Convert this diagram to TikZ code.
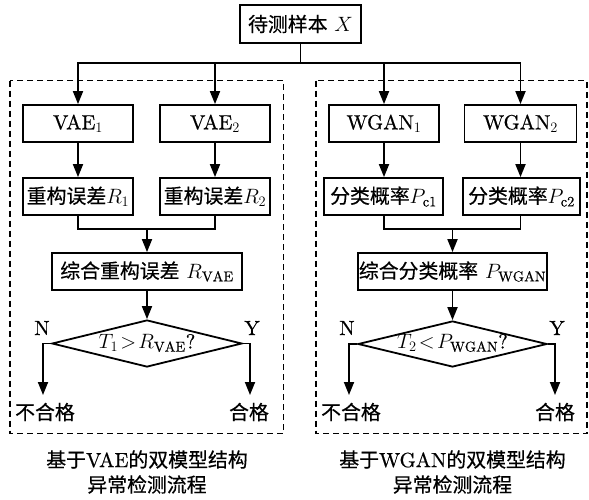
\documentclass[tikz,border=0pt]{standalone}
\usepackage{fontspec}
\setmainfont{lmroman10-regular.otf}[FakeBold=0.5]
\usetikzlibrary{arrows.meta,shapes.geometric}
\newfontfamily\cjk[Scale=0.97,FakeBold=0.5]{Noto Sans CJK SC}
\newcommand\mysize{\fontsize{20.5}{24}\selectfont}
\begin{document}
\begin{tikzpicture}[x=1pt,y=-1pt,
  box/.style={draw,line width=1.8pt,minimum height=37pt,inner sep=0pt,font=\mysize},
  dia/.style={draw,diamond,line width=1.8pt,inner sep=0pt},
  txt/.style={inner sep=0pt,font=\mysize},
  arr/.style={line width=1.8pt,-{Triangle[length=13pt,width=10pt]}},
  ln/.style={line width=1.8pt},
  dbox/.style={draw,line width=1.5pt,dash pattern=on 6pt off 4pt}]
\useasboundingbox (0,0) rectangle (589,499);
% dashed frames
\draw[dbox] (10,80.5) rectangle (283.5,433.5);
\draw[dbox] (316,80.5) rectangle (587,433.5);
% top
\node[box,minimum width=121pt,minimum height=38pt] (top) at (300.5,24) {{\cjk 待测样本} $X$};
\coordinate (split) at (300.5,63);
% left column
\node[box,minimum width=110pt] (v1) at (78,123.5) {VAE$_1$};
\node[box,minimum width=110pt] (v2) at (215,123.5) {VAE$_2$};
\node[box,minimum width=110pt] (r1) at (78,196.5) {{\cjk 重构误差}$R_1$};
\node[box,minimum width=110pt] (r2) at (215,196.5) {{\cjk 重构误差}$R_2$};
\coordinate (j1) at (147,229);
\node[box,minimum width=190pt] (cv) at (147,271.5) {{\cjk 综合重构误差} $R_{\mathrm{VAE}}$};
\node[dia,minimum width=190pt,minimum height=47pt] (dv) at (147,343.5) {};
\node[txt] (dvt) at (147,343) {$T_1\!>\!R_{\mathrm{VAE}}$?};
\coordinate (nL) at (43,395);
\coordinate (yL) at (250,395);
\node[txt] (nl) at (42,328) {N};
\node[txt] (yl) at (252,328) {Y};
\node[txt] (bhg1) at (45,412) {\cjk 不合格};
\node[txt] (hg1) at (249,412) {\cjk 合格};
% right column
\node[box,minimum width=110pt] (w1) at (384,123.5) {WGAN$_1$};
\node[box,minimum width=112pt] (w2) at (520.5,123.5) {WGAN$_2$};
\node[box,minimum width=119pt] (p1) at (383.5,196.5) {{\cjk 分类概率}$P_{\mathrm{c1}}$};
\node[box,minimum width=117pt] (p2) at (521.5,196.5) {{\cjk 分类概率}$P_{\mathrm{c2}}$};
\coordinate (j2) at (452.5,229);
\node[box,minimum width=189pt] (cw) at (452.5,271.5) {{\cjk 综合分类概率} $P_{\mathrm{WGAN}}$};
\node[dia,minimum width=189pt,minimum height=46pt] (dw) at (452.5,344) {};
\node[txt] (dwt) at (452.5,343) {$T_2\!<\!P_{\mathrm{WGAN}}$?};
\coordinate (nR) at (349,395);
\coordinate (yR) at (555,395);
\node[txt] (nr) at (347,328) {N};
\node[txt] (yr) at (557,328) {Y};
\node[txt] (bhg2) at (351,412) {\cjk 不合格};
\node[txt] (hg2) at (555,412) {\cjk 合格};
% captions
\node[txt,align=center] (cap1) at (147,472) {{\cjk 基于}VAE{\cjk 的双模型结构}\\[1pt]{\cjk 异常检测流程}};
\node[txt,align=center] (cap2) at (452.5,472) {{\cjk 基于}WGAN{\cjk 的双模型结构}\\[1pt]{\cjk 异常检测流程}};
% connectors
\draw[ln] (top) -- (split);
\draw[arr] (split) -| (v1);
\draw[arr] (split) -| (v2);
\draw[arr] (split) -| (w1);
\draw[arr] (split) -| (w2);
\draw[arr] (v1) -- (r1);
\draw[arr] (v2) -- (r2);
\draw[arr] (w1) -- (p1.north -| w1);
\draw[arr] (w2) -- (p2.north -| w2);
\draw[ln] (r1) |- (j1) -| (r2);
\draw[ln] (p1.south -| w1) |- (j2) -| (p2.south -| w2);
\draw[arr] (j1) -- (cv);
\draw[arr] (j2) -- (cw);
\draw[arr] (cv) -- (dv);
\draw[arr] (cw) -- (dw);
\draw[arr] (dv.west) -| (nL);
\draw[arr] (dv.east) -| (yL);
\draw[arr] (dw.west) -| (nR);
\draw[arr] (dw.east) -| (yR);
\end{tikzpicture}
\end{document}
